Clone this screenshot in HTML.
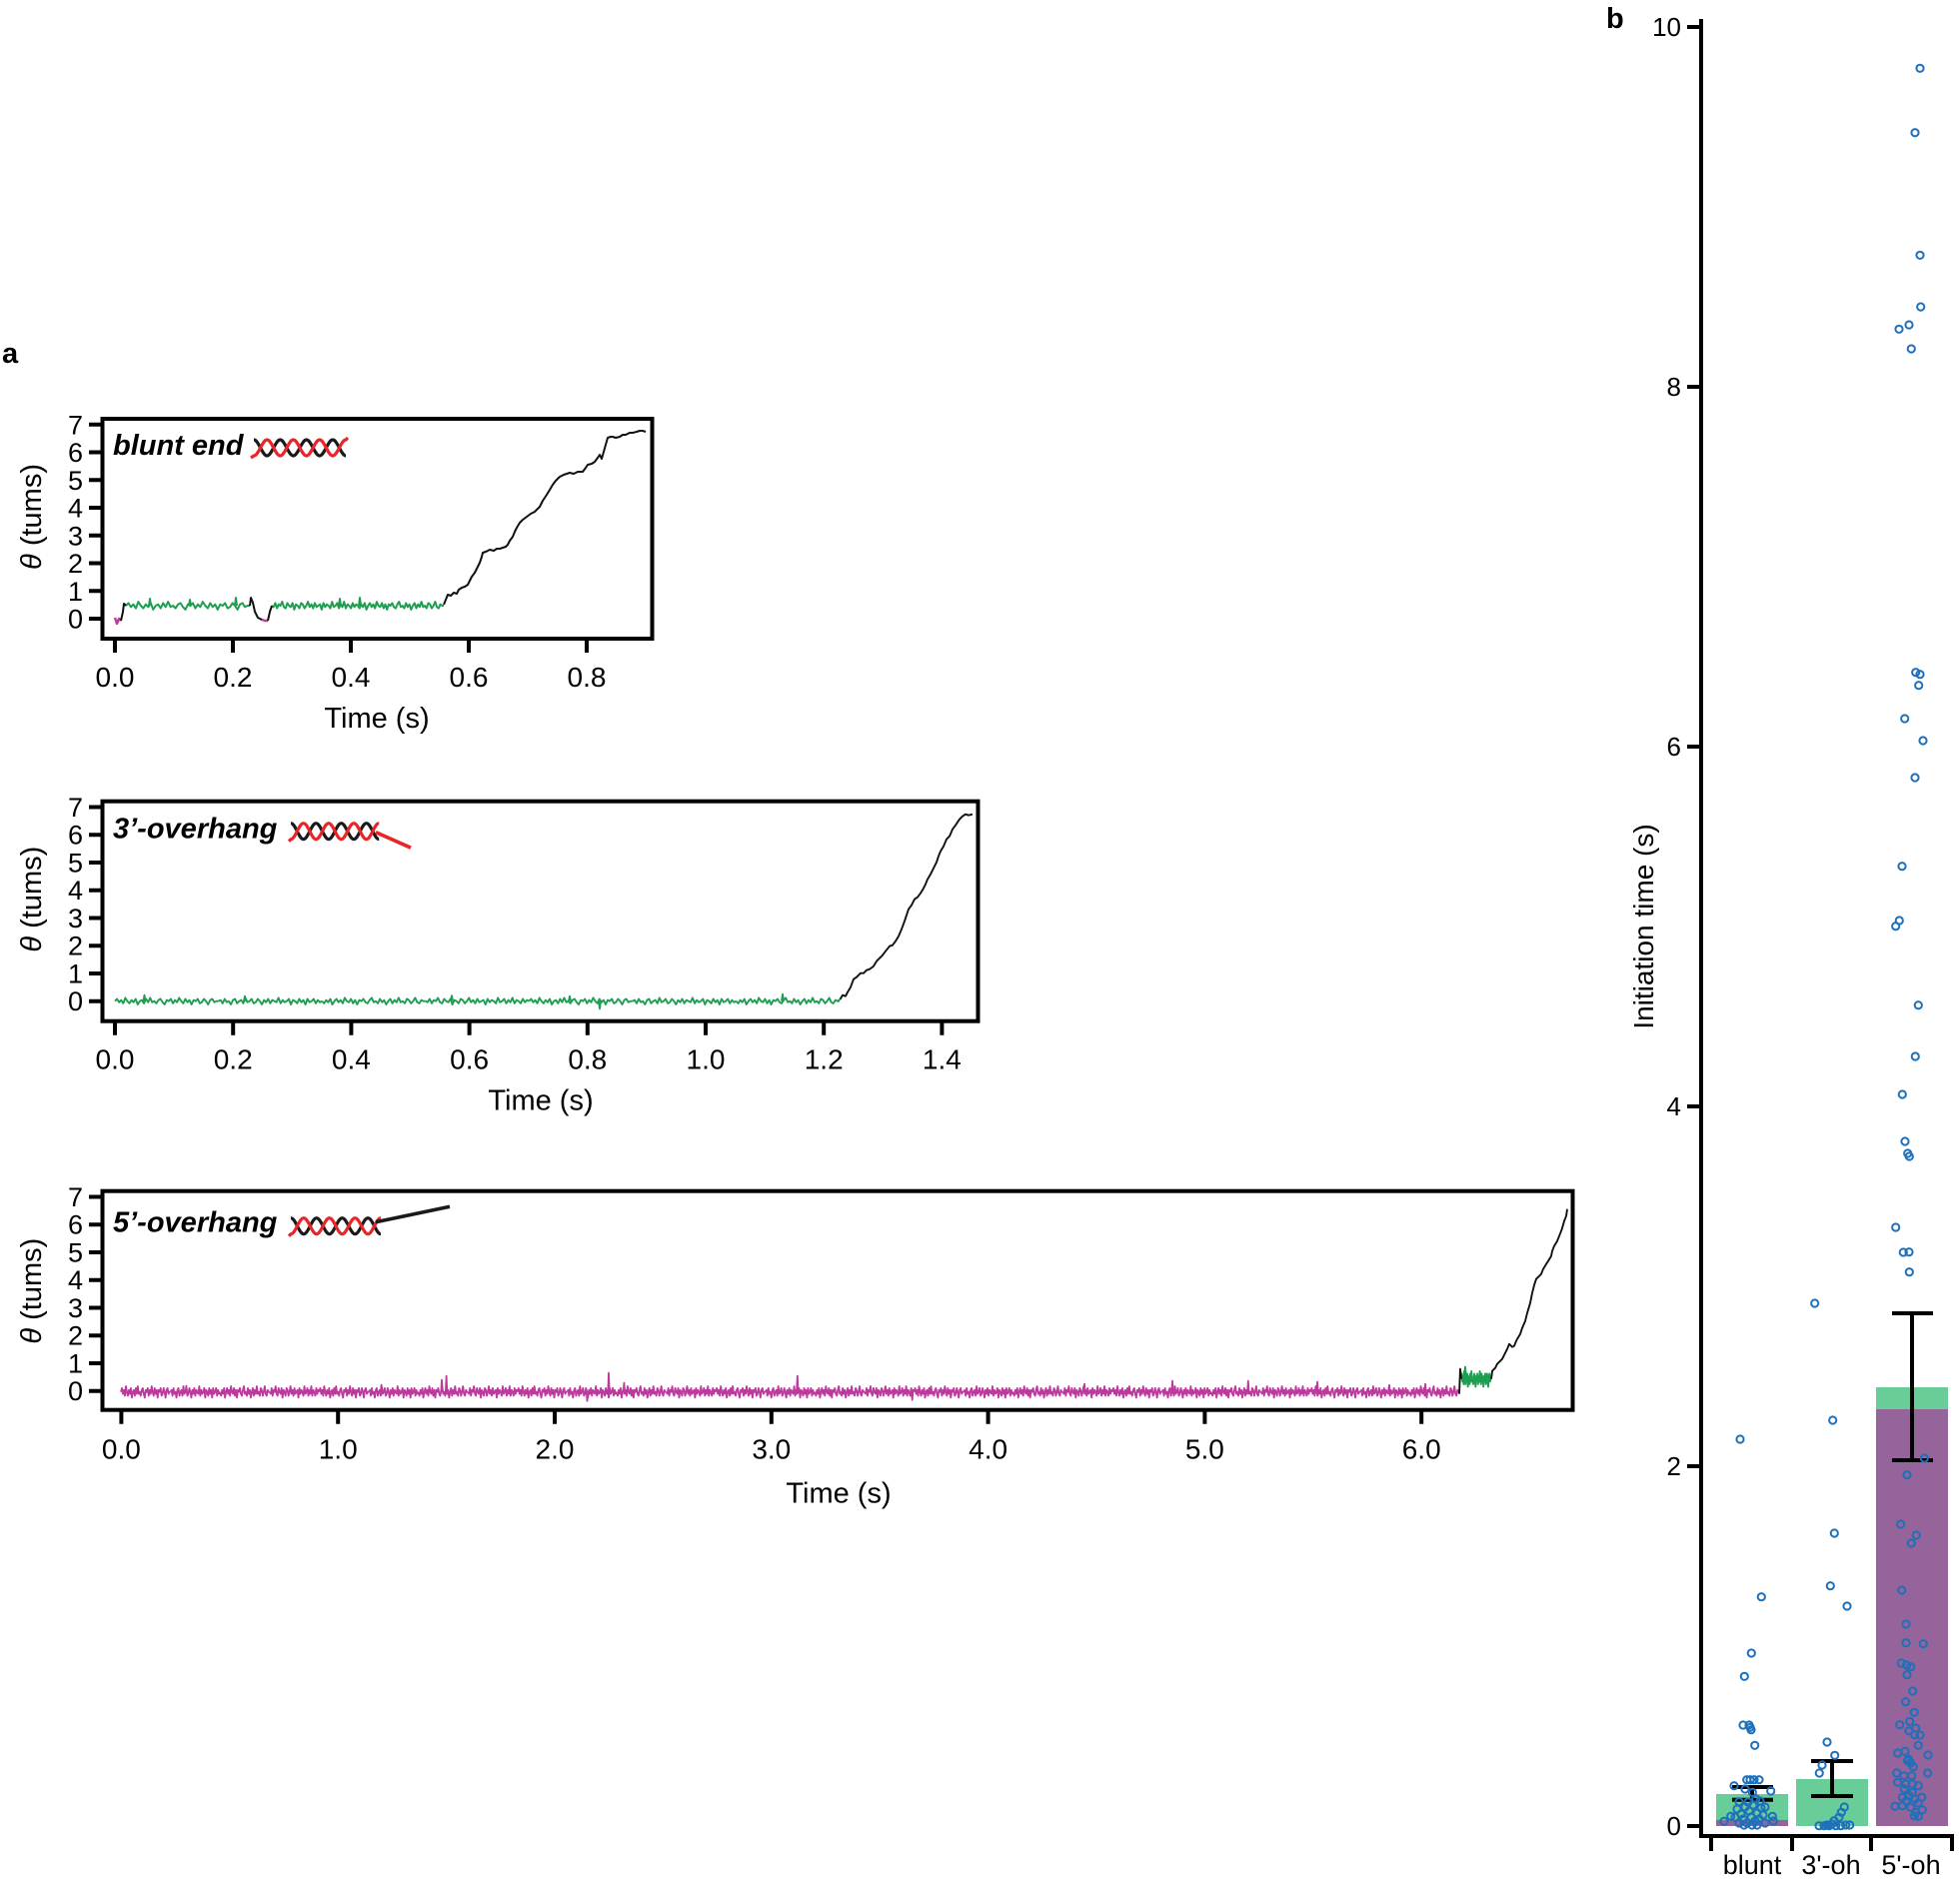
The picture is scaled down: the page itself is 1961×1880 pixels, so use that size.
<!DOCTYPE html>
<html><head><meta charset="utf-8">
<style>
html,body{margin:0;padding:0;background:#fff;}
svg{display:block;}
text{font-family:"Liberation Sans",Arial,sans-serif;fill:#000;}
</style></head><body>
<svg width="1961" height="1880" viewBox="0 0 1961 1880" xmlns="http://www.w3.org/2000/svg" xmlns:xlink="http://www.w3.org/1999/xlink">
<defs>
<polyline id="nz" fill="none" vector-effect="non-scaling-stroke" stroke-linejoin="round" points="0,0 2,-2 4,1 6,-1 8,2 10,-3 12,0 14,2 16,-1 18,1 20,-2 22,3 24,0 26,-1 28,2 30,-2 32,1 34,-3 36,1 38,0 40,2 42,-1 44,-2 46,1 48,3 50,-1 52,0 54,-2 56,2 58,-1 60,1 62,-3 64,0 66,2 68,-2 70,1 72,-1 74,3 76,-1 78,0 80,-2 82,2 84,1 86,-2 88,0 90,3 92,-1 94,-2 96,1 98,0 100,0"/>
<polyline id="nz2" fill="none" vector-effect="non-scaling-stroke" stroke-linejoin="round" points="0,0 2,1 4,-2 6,2 8,-1 10,0 12,-3 14,1 16,2 18,-2 20,0 22,1 24,-2 26,3 28,-1 30,0 32,2 34,-2 36,-1 38,2 40,0 42,-3 44,1 46,-1 48,2 50,-2 52,1 54,0 56,-1 58,3 60,-2 62,1 64,-1 66,0 68,2 70,-3 72,1 74,0 76,-2 78,2 80,-1 82,1 84,-3 86,2 88,-1 90,0 92,2 94,-2 96,1 98,-1 100,0"/>
</defs>
<rect width="1961" height="1880" fill="#fff"/>

<text x="2" y="363" font-size="29" font-weight="bold">a</text>
<text x="1607" y="28" font-size="29" font-weight="bold">b</text>

<!-- ========== Plot 1 ========== -->
<g transform="translate(0,419)">
  <g stroke="#000" stroke-width="4" fill="none">
    <rect x="102.5" y="0" width="550" height="220"/>
    <path d="M89,200H102.5M89,172.25H102.5M89,144.5H102.5M89,116.75H102.5M89,89H102.5M89,61.25H102.5M89,33.5H102.5M89,5.75H102.5"/>
    <path d="M115,220V234M233,220V234M351,220V234M469,220V234M587,220V234"/>
  </g>
  <g font-size="27" text-anchor="end">
    <text x="83" y="209.5">0</text><text x="83" y="181.75">1</text><text x="83" y="154">2</text><text x="83" y="126.25">3</text>
    <text x="83" y="98.5">4</text><text x="83" y="70.75">5</text><text x="83" y="43">6</text><text x="83" y="15.25">7</text>
  </g>
  <g font-size="28" text-anchor="middle">
    <text x="115" y="268">0.0</text><text x="233" y="268">0.2</text><text x="351" y="268">0.4</text><text x="469" y="268">0.6</text><text x="587" y="268">0.8</text>
  </g>
  <text x="377" y="309" font-size="29" text-anchor="middle">Time (s)</text>
  <text transform="translate(41,98) rotate(-90)" font-size="29" text-anchor="middle"><tspan font-style="italic">θ</tspan> (tums)</text>
  <text x="113" y="36" font-size="29" font-weight="bold" font-style="italic">blunt end</text>
  <g fill="none" stroke-width="3.2">
    <path stroke="#1a1a1a" d="M254,21 C258.79,21 262.36,37 267.15,37 S275.51,21 280.3,21 S288.66,37 293.45,37 S301.81,21 306.6,21 S314.96,37 319.75,37 S328.11,21 332.9,21 S341.26,37 346.05,37"/>
    <path stroke="#e8262a" d="M251,39 L254,37 C258.79,37 262.36,21 267.15,21 S275.51,37 280.3,37 S288.66,21 293.45,21 S301.81,37 306.6,37 S314.96,21 319.75,21 S328.11,37 332.9,37 S341.26,21 346.05,21 L348,19"/>
  </g>
  <g fill="none" stroke-width="2" stroke-linejoin="round">
    <path stroke="#bb3a9c" stroke-width="2.4" d="M115,199 L117,205 L119,200 L121,202 M262,201 L265,202 L268,202"/>
    <use xlink:href="#nz" href="#nz" stroke="#1e9e50" transform="translate(126,187) scale(1.24,1.3)"/>
    <use xlink:href="#nz2" href="#nz2" stroke="#1e9e50" transform="translate(272,187) scale(0.86,1.3)"/>
    <use xlink:href="#nz" href="#nz" stroke="#1e9e50" transform="translate(358,187) scale(0.86,-1.3)"/>
    <path stroke="#1e9e50" d="M149,187 L150,180 L151,187 M189,187 L190,181 L191,187 M235,187 L236,179 L237,187 M339,187 L340,180 L341,187 M359,187 L360,179 L361,187"/>
    <path stroke="#111" d="M121,202 L123,193 L124,185 L126,187 M250,187 L251,179 L253,184 L255,193 L258,199 L262,201 M268,202 L270,193 L272,187"/>
    <polyline stroke="#111" points="444,186 446,181 448,176 451,177 454,174 457,175 459,171 462,169 465,168 468,166 470,162 472,158 475,154 477,150 480,144 482,138 483,134 486,133 490,131 494,132 497,130 500,130 503,129 506,128 508,126 510,122 513,118 515,113 517,109 520,104 523,101 527,98 531,95 535,93 540,88 543,82 547,76 550,71 553,66 556,62 560,58 564,56 567,55 570,54 574,55 578,53 583,53 586,49 588,46 592,45 595,43 598,39 600,36 602,40 604,33 606,26 608,19 611,18 613,18 616,19 620,18 623,16 626,16 630,14 633,14 637,13 640,12 643,12 646,13"/>
  </g>
</g>

<!-- ========== Plot 2 ========== -->
<g transform="translate(0,801.7)">
  <g stroke="#000" stroke-width="4" fill="none">
    <rect x="102.5" y="0" width="876" height="220"/>
    <path d="M89,200H102.5M89,172.25H102.5M89,144.5H102.5M89,116.75H102.5M89,89H102.5M89,61.25H102.5M89,33.5H102.5M89,5.75H102.5"/>
    <path d="M115,220V234M233.2,220V234M351.4,220V234M469.6,220V234M587.8,220V234M706,220V234M824.2,220V234M942.4,220V234"/>
  </g>
  <g font-size="27" text-anchor="end">
    <text x="83" y="209.5">0</text><text x="83" y="181.75">1</text><text x="83" y="154">2</text><text x="83" y="126.25">3</text>
    <text x="83" y="98.5">4</text><text x="83" y="70.75">5</text><text x="83" y="43">6</text><text x="83" y="15.25">7</text>
  </g>
  <g font-size="28" text-anchor="middle">
    <text x="115" y="268">0.0</text><text x="233.2" y="268">0.2</text><text x="351.4" y="268">0.4</text><text x="469.6" y="268">0.6</text>
    <text x="587.8" y="268">0.8</text><text x="706" y="268">1.0</text><text x="824.2" y="268">1.2</text><text x="942.4" y="268">1.4</text>
  </g>
  <text x="541" y="309" font-size="29" text-anchor="middle">Time (s)</text>
  <text transform="translate(41,98) rotate(-90)" font-size="29" text-anchor="middle"><tspan font-style="italic">θ</tspan> (tums)</text>
  <text x="113" y="37" font-size="29" font-weight="bold" font-style="italic">3’-overhang</text>
  <g fill="none" stroke-width="3.2">
    <path stroke="#1a1a1a" d="M291,22 C295.59,22 299.01,38 303.6,38 S311.61,22 316.2,22 S324.21,38 328.8,38 S336.81,22 341.4,22 S349.41,38 354,38 S362.01,22 366.6,22 S374.61,38 379.2,38"/>
    <path stroke="#e8262a" d="M289,40 L291,38 C295.59,38 299.01,22 303.6,22 S311.61,38 316.2,38 S324.21,22 328.8,22 S336.81,38 341.4,38 S349.41,22 354,22 S362.01,38 366.6,38 S374.61,22 379.2,22"/>
    <path stroke="#e8262a" stroke-width="3.6" d="M376,31 L411,46.5"/>
  </g>
  <g fill="none" stroke-width="1.9" stroke-linejoin="round">
    <use xlink:href="#nz" href="#nz" stroke="#1e9e50" transform="translate(115,200) scale(1.0357,1.1)"/>
    <use xlink:href="#nz2" href="#nz2" stroke="#1e9e50" transform="translate(218.57,200) scale(1.0357,-1.1)"/>
    <use xlink:href="#nz" href="#nz" stroke="#1e9e50" transform="translate(322.14,200) scale(1.0357,-1.1)"/>
    <use xlink:href="#nz2" href="#nz2" stroke="#1e9e50" transform="translate(425.71,200) scale(1.0357,1.1)"/>
    <use xlink:href="#nz" href="#nz" stroke="#1e9e50" transform="translate(529.29,200) scale(1.0357,1.1)"/>
    <use xlink:href="#nz2" href="#nz2" stroke="#1e9e50" transform="translate(632.86,200) scale(1.0357,-1.1)"/>
    <use xlink:href="#nz" href="#nz" stroke="#1e9e50" transform="translate(736.43,200) scale(1.0357,-1.1)"/>
    <path stroke="#1e9e50" d="M143.5,200 L144.5,194 L145.5,200 M244,200 L245,195 L246,200 M451,200 L452,194.5 L453,200 M569,200 L570,195 L571,200 M599,200 L600,207.5 L601,200 M782,200 L783,193 L784,200 M838,200 L840.6,198"/>
    <polyline stroke="#111" points="840.6,198 843,194 846,195 848,191 851,186 854,178 857,176 861,172 864,172 867,169 870,168 874,165 877,160 880,157 883,154 886,150 890,145 893,144 896,140 899,135 902,128 905,120 907,114 909,108 912,104 915,98 918,96 921,92 924,87 926,83 928,78 931,73 934,67 937,61 939,55 941,50 944,45 947,38 950,35 953,28 956,24 960,18 963,15 966,13 969,14 973,13"/>
  </g>
</g>

<!-- ========== Plot 3 ========== -->
<g transform="translate(0,1191.7)">
  <g stroke="#000" stroke-width="4" fill="none">
    <rect x="102.5" y="0" width="1471" height="219"/>
    <path d="M89,200H102.5M89,172.25H102.5M89,144.5H102.5M89,116.75H102.5M89,89H102.5M89,61.25H102.5M89,33.5H102.5M89,5.75H102.5"/>
    <path d="M121.4,219V233M338.2,219V233M555,219V233M771.8,219V233M988.6,219V233M1205.4,219V233M1422.2,219V233"/>
  </g>
  <g font-size="27" text-anchor="end">
    <text x="83" y="209.5">0</text><text x="83" y="181.75">1</text><text x="83" y="154">2</text><text x="83" y="126.25">3</text>
    <text x="83" y="98.5">4</text><text x="83" y="70.75">5</text><text x="83" y="43">6</text><text x="83" y="15.25">7</text>
  </g>
  <g font-size="28" text-anchor="middle">
    <text x="121.4" y="268">0.0</text><text x="338.2" y="268">1.0</text><text x="555" y="268">2.0</text><text x="771.8" y="268">3.0</text>
    <text x="988.6" y="268">4.0</text><text x="1205.4" y="268">5.0</text><text x="1422.2" y="268">6.0</text>
  </g>
  <text x="839" y="312" font-size="29" text-anchor="middle">Time (s)</text>
  <text transform="translate(41,100) rotate(-90)" font-size="29" text-anchor="middle"><tspan font-style="italic">θ</tspan> (tums)</text>
  <text x="113" y="41" font-size="29" font-weight="bold" font-style="italic">5’-overhang</text>
  <g fill="none" stroke-width="3.2">
    <path stroke="#1a1a1a" d="M291,27 C295.68,27 299.17,43 303.85,43 S312.02,27 316.7,27 S324.87,43 329.55,43 S337.72,27 342.4,27 S350.57,43 355.25,43 S363.42,27 368.1,27 S376.27,43 380.95,43"/>
    <path stroke="#e8262a" d="M289,45 L291,43 C295.68,43 299.17,27 303.85,27 S312.02,43 316.7,43 S324.87,27 329.55,27 S337.72,43 342.4,43 S350.57,27 355.25,27 S363.42,43 368.1,43 S376.27,27 380.95,27"/>
    <path stroke="#1a1a1a" stroke-width="3.6" d="M376,31 L450,15.5"/>
  </g>
  <g fill="none" stroke-width="1.8" stroke-linejoin="round" stroke="#bb3a9c">
    <use xlink:href="#nz" href="#nz" transform="translate(121,201) scale(0.496,1.9)"/>
    <use xlink:href="#nz2" href="#nz2" transform="translate(170.6,201) scale(0.496,-1.9)"/>
    <use xlink:href="#nz" href="#nz" transform="translate(220.2,201) scale(0.496,-1.9)"/>
    <use xlink:href="#nz2" href="#nz2" transform="translate(269.8,201) scale(0.496,1.9)"/>
    <use xlink:href="#nz" href="#nz" transform="translate(319.4,201) scale(0.496,1.9)"/>
    <use xlink:href="#nz2" href="#nz2" transform="translate(369,201) scale(0.496,-1.9)"/>
    <use xlink:href="#nz" href="#nz" transform="translate(418.6,201) scale(0.496,-1.9)"/>
    <use xlink:href="#nz2" href="#nz2" transform="translate(468.2,201) scale(0.496,1.9)"/>
    <use xlink:href="#nz" href="#nz" transform="translate(517.8,201) scale(0.496,1.9)"/>
    <use xlink:href="#nz2" href="#nz2" transform="translate(567.4,201) scale(0.496,-1.9)"/>
    <use xlink:href="#nz" href="#nz" transform="translate(617,201) scale(0.496,-1.9)"/>
    <use xlink:href="#nz2" href="#nz2" transform="translate(666.6,201) scale(0.496,1.9)"/>
    <use xlink:href="#nz" href="#nz" transform="translate(716.2,201) scale(0.496,1.9)"/>
    <use xlink:href="#nz2" href="#nz2" transform="translate(765.8,201) scale(0.496,-1.9)"/>
    <use xlink:href="#nz" href="#nz" transform="translate(815.4,201) scale(0.496,-1.9)"/>
    <use xlink:href="#nz2" href="#nz2" transform="translate(865,201) scale(0.496,1.9)"/>
    <use xlink:href="#nz" href="#nz" transform="translate(914.6,201) scale(0.496,1.9)"/>
    <use xlink:href="#nz2" href="#nz2" transform="translate(964.2,201) scale(0.496,-1.9)"/>
    <use xlink:href="#nz" href="#nz" transform="translate(1013.8,201) scale(0.496,-1.9)"/>
    <use xlink:href="#nz2" href="#nz2" transform="translate(1063.4,201) scale(0.496,1.9)"/>
    <use xlink:href="#nz" href="#nz" transform="translate(1113,201) scale(0.496,1.9)"/>
    <use xlink:href="#nz2" href="#nz2" transform="translate(1162.6,201) scale(0.496,-1.9)"/>
    <use xlink:href="#nz" href="#nz" transform="translate(1212.2,201) scale(0.496,-1.9)"/>
    <use xlink:href="#nz2" href="#nz2" transform="translate(1261.8,201) scale(0.496,1.9)"/>
    <use xlink:href="#nz" href="#nz" transform="translate(1311.4,201) scale(0.496,1.9)"/>
    <use xlink:href="#nz2" href="#nz2" transform="translate(1361,201) scale(0.496,-1.9)"/>
    <use xlink:href="#nz" href="#nz" transform="translate(1410.6,201) scale(0.496,-1.9)"/>
    <path d="M185.7,201L186.4,195L187.1,201 M380.9,201L381.6,194L382.3,201 M441.3,201L442,189L442.7,201 M445.9,201L446.6,185L447.3,201 M586.8,201L587.5,210L588.2,201 M608.3,201L609,182L609.7,201 M623.7,201L624.4,192L625.1,201 M797.1,201L797.8,185L798.5,201 M912,201L912.7,209L913.4,201 M1084.3,201L1085,193L1085.7,201 M1172.3,201L1173,190L1173.7,201 M1248.1,201L1248.8,190L1249.5,201 M1317.3,201L1318,191L1318.7,201 M1389.3,201L1390,194L1390.7,201 M1425.3,201L1426,193L1426.7,201"/>
  </g>
  <g fill="none" stroke-width="1.9" stroke-linejoin="round">
    <use xlink:href="#nz" href="#nz" stroke="#1e9e50" transform="translate(1462,188) scale(0.3,2.6)"/>
    <path stroke="#1e9e50" d="M1465,188 L1466,176 L1467,188"/>
    <path stroke="#111" d="M1460,203 L1461,178 L1462,188"/>
    <polyline stroke="#111" points="1492,188 1493,180 1496,177 1498,173 1501,170 1503,168 1506,162 1508,158 1510,153 1513,156 1515,155 1517,150 1518,148 1521,143 1523,137 1526,130 1528,122 1531,112 1533,102 1535,94 1537,88 1539,86 1542,83 1544,78 1547,73 1549,70 1552,65 1553,60 1555,55 1558,50 1560,45 1562,40 1563,37 1565,30 1567,25 1568,18"/>
  </g>
</g>

<!-- ========== Panel b ========== -->
<g>
  <rect x="1717" y="1795" width="72" height="32" fill="#68cd98"/>
  <rect x="1717" y="1821" width="72" height="6" fill="#94649a"/>
  <rect x="1797" y="1780" width="72" height="47" fill="#68cd98"/>
  <rect x="1877" y="1388" width="72" height="439" fill="#68cd98"/>
  <rect x="1877" y="1410" width="72" height="417" fill="#94649a"/>
  <g stroke="#000" stroke-width="4" fill="none">
    <path d="M1702,19V1837H1955"/>
    <path d="M1688,1827H1702M1688,1467H1702M1688,1107H1702M1688,747H1702M1688,387H1702M1688,27H1702"/>
    <path d="M1712,1837V1852M1793,1837V1852M1872,1837V1852M1953,1837V1852"/>
    <path d="M1753,1788V1800.7M1733,1788H1774M1733,1800.7H1774"/>
    <path d="M1833,1762V1797M1812,1762H1854M1812,1797H1854"/>
    <path d="M1913,1314V1461M1893,1314H1934M1893,1461H1934"/>
  </g>
  <g font-size="26" text-anchor="end">
    <text x="1682" y="1836">0</text><text x="1682" y="1476">2</text><text x="1682" y="1116">4</text>
    <text x="1682" y="756">6</text><text x="1682" y="396">8</text><text x="1682" y="36">10</text>
  </g>
  <g font-size="27" text-anchor="middle">
    <text x="1753" y="1875">blunt</text><text x="1832" y="1875">3'-oh</text><text x="1912" y="1875">5'-oh</text>
  </g>
  <text transform="translate(1654,927) rotate(-90)" font-size="28" text-anchor="middle">Initiation time (s)</text>
  <g fill="none" stroke="#1f70ba" stroke-width="2">
    <circle cx="1921" cy="68.3" r="3.6"/><circle cx="1916" cy="132.7" r="3.6"/><circle cx="1921" cy="255.3" r="3.6"/><circle cx="1921.7" cy="307" r="3.6"/><circle cx="1910" cy="325" r="3.6"/><circle cx="1900" cy="329.3" r="3.6"/><circle cx="1912.3" cy="349" r="3.6"/>
    <circle cx="1916.7" cy="672.7" r="3.6"/><circle cx="1921" cy="674.7" r="3.6"/><circle cx="1919.7" cy="685.7" r="3.6"/><circle cx="1905.7" cy="719" r="3.6"/><circle cx="1924" cy="741" r="3.6"/><circle cx="1916" cy="778" r="3.6"/><circle cx="1903" cy="866.7" r="3.6"/><circle cx="1900.3" cy="921" r="3.6"/><circle cx="1896.7" cy="926.7" r="3.6"/><circle cx="1919.3" cy="1005.7" r="3.6"/><circle cx="1916.3" cy="1057" r="3.6"/><circle cx="1903.3" cy="1095" r="3.6"/><circle cx="1906" cy="1142" r="3.6"/><circle cx="1908.7" cy="1154" r="3.6"/><circle cx="1910.3" cy="1157" r="3.6"/><circle cx="1896.7" cy="1228" r="3.6"/><circle cx="1904.3" cy="1253" r="3.6"/><circle cx="1910" cy="1252.7" r="3.6"/><circle cx="1910.3" cy="1272.7" r="3.6"/>
    <circle cx="1925.3" cy="1459" r="3.6"/><circle cx="1908" cy="1475.7" r="3.6"/><circle cx="1901.7" cy="1525" r="3.6"/><circle cx="1917.3" cy="1536" r="3.6"/><circle cx="1912.3" cy="1544" r="3.6"/><circle cx="1902.7" cy="1591" r="3.6"/><circle cx="1907" cy="1625" r="3.6"/><circle cx="1907" cy="1643.7" r="3.6"/><circle cx="1924.3" cy="1644.7" r="3.6"/>
    <circle cx="1902.3" cy="1664" r="3.6"/><circle cx="1907.7" cy="1666" r="3.6"/><circle cx="1911.7" cy="1667.7" r="3.6"/><circle cx="1908" cy="1675.7" r="3.6"/><circle cx="1913.7" cy="1692" r="3.6"/><circle cx="1906.7" cy="1702.7" r="3.6"/><circle cx="1915.3" cy="1713.3" r="3.6"/><circle cx="1900.7" cy="1725.7" r="3.6"/><circle cx="1910.7" cy="1722.3" r="3.6"/><circle cx="1916.7" cy="1729" r="3.6"/><circle cx="1910" cy="1731.7" r="3.6"/><circle cx="1921" cy="1736" r="3.6"/><circle cx="1915.7" cy="1735.7" r="3.6"/><circle cx="1919.3" cy="1746.3" r="3.6"/><circle cx="1898.7" cy="1754" r="3.6"/><circle cx="1906" cy="1752.3" r="3.6"/><circle cx="1929" cy="1756" r="3.6"/><circle cx="1909.3" cy="1760" r="3.6"/><circle cx="1911.7" cy="1764" r="3.6"/><circle cx="1914.3" cy="1767.7" r="3.6"/><circle cx="1908.7" cy="1761.7" r="3.6"/><circle cx="1928.7" cy="1774" r="3.6"/><circle cx="1897.7" cy="1774" r="3.6"/><circle cx="1905" cy="1776.7" r="3.6"/><circle cx="1912.7" cy="1776.7" r="3.6"/><circle cx="1898.7" cy="1783.3" r="3.6"/><circle cx="1906.7" cy="1785" r="3.6"/><circle cx="1913.3" cy="1785" r="3.6"/><circle cx="1919.3" cy="1786.7" r="3.6"/><circle cx="1905.3" cy="1790" r="3.6"/><circle cx="1913.3" cy="1793.3" r="3.6"/><circle cx="1903.3" cy="1798.3" r="3.6"/><circle cx="1910" cy="1796.7" r="3.6"/><circle cx="1922.7" cy="1798.3" r="3.6"/><circle cx="1916" cy="1800" r="3.6"/><circle cx="1907.3" cy="1801.7" r="3.6"/><circle cx="1919.3" cy="1804" r="3.6"/><circle cx="1896" cy="1807.3" r="3.6"/><circle cx="1903.3" cy="1806.7" r="3.6"/><circle cx="1911.7" cy="1808.3" r="3.6"/><circle cx="1923.3" cy="1810.7" r="3.6"/><circle cx="1916.7" cy="1813.3" r="3.6"/><circle cx="1915.3" cy="1816.7" r="3.6"/><circle cx="1919.3" cy="1817.3" r="3.6"/>
    <circle cx="1815.7" cy="1304" r="3.6"/><circle cx="1833.7" cy="1421" r="3.6"/><circle cx="1835.3" cy="1534" r="3.6"/><circle cx="1831.3" cy="1586.7" r="3.6"/><circle cx="1848" cy="1607" r="3.6"/><circle cx="1828" cy="1743" r="3.6"/><circle cx="1835.7" cy="1756.3" r="3.6"/><circle cx="1823" cy="1766" r="3.6"/><circle cx="1820.3" cy="1774" r="3.6"/><circle cx="1845.3" cy="1808" r="3.6"/><circle cx="1842.3" cy="1813.3" r="3.6"/><circle cx="1840" cy="1818.3" r="3.6"/><circle cx="1835" cy="1821.7" r="3.6"/><circle cx="1820" cy="1826.7" r="3.6"/><circle cx="1825" cy="1826.7" r="3.6"/><circle cx="1830" cy="1826.7" r="3.6"/><circle cx="1836.7" cy="1826.7" r="3.6"/><circle cx="1841.7" cy="1826.7" r="3.6"/><circle cx="1846.7" cy="1826" r="3.6"/><circle cx="1850.7" cy="1826" r="3.6"/><circle cx="1828" cy="1826" r="3.6"/><circle cx="1833" cy="1825" r="3.6"/>
    <circle cx="1741" cy="1440" r="3.6"/><circle cx="1762.3" cy="1597.7" r="3.6"/><circle cx="1752.3" cy="1654" r="3.6"/><circle cx="1745.3" cy="1677.3" r="3.6"/><circle cx="1744" cy="1726" r="3.6"/><circle cx="1750" cy="1726" r="3.6"/><circle cx="1751" cy="1728.3" r="3.6"/><circle cx="1752" cy="1730.7" r="3.6"/><circle cx="1755.7" cy="1746.3" r="3.6"/><circle cx="1735" cy="1786.7" r="3.6"/><circle cx="1747.7" cy="1780.7" r="3.6"/><circle cx="1751" cy="1780.7" r="3.6"/><circle cx="1755" cy="1780.7" r="3.6"/><circle cx="1760" cy="1780.7" r="3.6"/><circle cx="1771.7" cy="1792" r="3.6"/><circle cx="1746" cy="1790" r="3.6"/><circle cx="1753.3" cy="1793.3" r="3.6"/><circle cx="1756.7" cy="1800" r="3.6"/><circle cx="1740" cy="1802.7" r="3.6"/><circle cx="1725" cy="1822.3" r="3.6"/><circle cx="1731.7" cy="1817.3" r="3.6"/><circle cx="1773.3" cy="1817.3" r="3.6"/><circle cx="1774.3" cy="1822" r="3.6"/>
    <circle cx="1738" cy="1810" r="3.6"/><circle cx="1742" cy="1815" r="3.6"/><circle cx="1746" cy="1808" r="3.6"/><circle cx="1750" cy="1812" r="3.6"/><circle cx="1754" cy="1806" r="3.6"/><circle cx="1758" cy="1814" r="3.6"/><circle cx="1762" cy="1809" r="3.6"/><circle cx="1744" cy="1820" r="3.6"/><circle cx="1748" cy="1824" r="3.6"/><circle cx="1752" cy="1818" r="3.6"/><circle cx="1756" cy="1822" r="3.6"/><circle cx="1760" cy="1820" r="3.6"/><circle cx="1764" cy="1816" r="3.6"/><circle cx="1740" cy="1824" r="3.6"/><circle cx="1736" cy="1818" r="3.6"/><circle cx="1766" cy="1824" r="3.6"/><circle cx="1758" cy="1826" r="3.6"/><circle cx="1745" cy="1826" r="3.6"/><circle cx="1753" cy="1826" r="3.6"/><circle cx="1749" cy="1803" r="3.6"/><circle cx="1761" cy="1802" r="3.6"/><circle cx="1766" cy="1808" r="3.6"/>
  </g>
</g>
</svg>
</body></html>
